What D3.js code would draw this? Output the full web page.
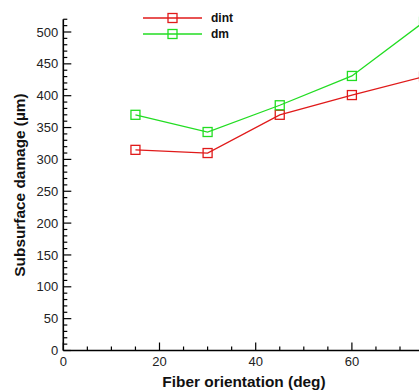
<!DOCTYPE html>
<html><head><meta charset="utf-8">
<script src="https://cdn.jsdelivr.net/npm/d3@7"></script>
<style>
html,body{margin:0;padding:0;background:#fff;}
svg{display:block;overflow:hidden;}
text{font-family:"Liberation Sans",Arial,sans-serif;}
</style></head>
<body><svg id="c" width="419" height="390"></svg>
<script>
const fiberAngles = [15, 30, 45, 60, 75];
const dintValues = [315, 310, 370, 401, 430];
const dmValues = [370, 343, 385, 431, 516];
const seriesNames = ["dint", "dm"];
const seriesColors = ["#e01a1a", "#22dd22"];
const yTicks = [0, 50, 100, 150, 200, 250, 300, 350, 400, 450, 500];
const xTicks = [0, 20, 40, 60];

const svg = d3.select("#c");
const x = d3.scaleLinear().domain([0, 80]).range([63.3, 63.3 + 80 * 4.81]);
const y = d3.scaleLinear().domain([0, 520]).range([350.5, 350.5 - 520 * 0.637]);

const series = [
  {name: seriesNames[0], color: seriesColors[0], values: dintValues},
  {name: seriesNames[1], color: seriesColors[1], values: dmValues}
];

// Y axis
const gy = svg.append("g").attr("transform", `translate(${x(0)},0)`);
gy.append("line").attr("x1",0).attr("x2",0).attr("y1",y(0)).attr("y2",y(520)).attr("stroke","#000").attr("stroke-width",1.6);
d3.range(0, 521, 10).forEach(v => {
  const major = v % 50 === 0;
  gy.append("line").attr("x1",0).attr("x2", major ? 8 : 4).attr("y1",y(v)).attr("y2",y(v)).attr("stroke","#000").attr("stroke-width",1.2);
});
yTicks.forEach(v => {
  gy.append("text").attr("x",-5).attr("y",y(v)).attr("dy","0.35em").attr("text-anchor","end")
    .attr("font-size",13).attr("fill","#222").text(v);
});

// X axis
const gx = svg.append("g").attr("transform", `translate(0,${y(0)})`);
gx.append("line").attr("x1",x(0)).attr("x2",x(80)).attr("y1",0).attr("y2",0).attr("stroke","#000").attr("stroke-width",1.6);
d3.range(0, 81, 5).forEach(v => {
  const major = v % 20 === 0;
  gx.append("line").attr("x1",x(v)).attr("x2",x(v)).attr("y1",0).attr("y2", major ? -8 : -4).attr("stroke","#000").attr("stroke-width",1.2);
});
xTicks.forEach(v => {
  gx.append("text").attr("x",x(v)).attr("y",15).attr("text-anchor","middle")
    .attr("font-size",13).attr("fill","#222").text(v);
});

// Axis titles
svg.append("text").attr("x",244).attr("y",387).attr("text-anchor","middle")
  .attr("font-size",15.4).attr("font-weight","bold").attr("fill","#111").text("Fiber orientation (deg)");
svg.append("text").attr("transform","translate(24.5,185) rotate(-90)").attr("text-anchor","middle")
  .attr("font-size",15.4).attr("font-weight","bold").attr("fill","#111").text("Subsurface damage (µm)");

// Lines and markers
const line = d3.line().x((d,i) => x(fiberAngles[i])).y(d => y(d));
series.forEach(s => {
  svg.append("path").attr("d", line(s.values)).attr("fill","none").attr("stroke",s.color).attr("stroke-width",1.3);
  s.values.forEach((v,i) => {
    svg.append("rect").attr("x", x(fiberAngles[i]) - 4.5).attr("y", y(v) - 4.5)
      .attr("width",9).attr("height",9).attr("fill","none").attr("stroke",s.color).attr("stroke-width",1.3);
  });
});

// Legend
series.forEach((s,i) => {
  const ly = 18 + i * 16;
  svg.append("line").attr("x1",143).attr("x2",202).attr("y1",ly).attr("y2",ly).attr("stroke",s.color).attr("stroke-width",1.3);
  svg.append("rect").attr("x",172.5-4.5).attr("y",ly-4.5).attr("width",9).attr("height",9).attr("fill","none").attr("stroke",s.color).attr("stroke-width",1.3);
  svg.append("text").attr("x",211).attr("y",ly).attr("dy","0.35em").attr("font-size",12).attr("font-weight","bold").attr("fill","#111").text(s.name);
});
</script></body></html>
